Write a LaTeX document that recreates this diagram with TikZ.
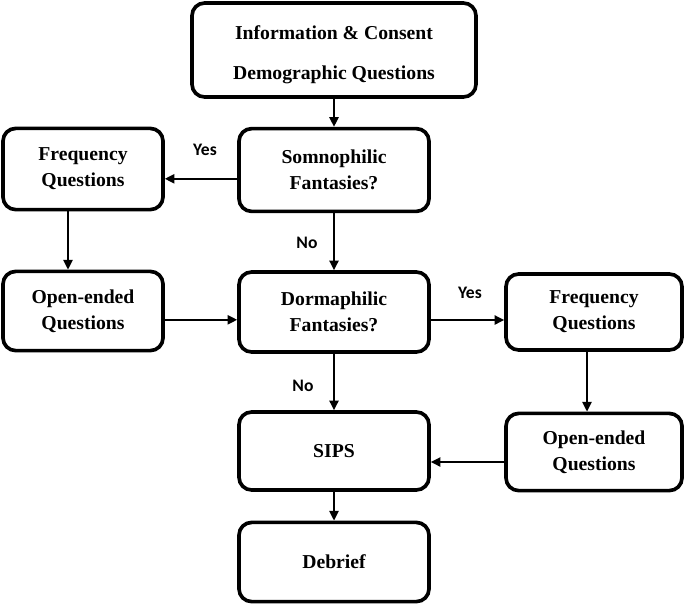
\documentclass[tikz,border=0pt]{standalone}
\usepackage{fontspec}
\setmainfont{Liberation Serif}
\newfontfamily\labelfont{Carlito}
\usepackage{tikz}
\usetikzlibrary{arrows.meta, positioning}

\begin{document}
\begin{tikzpicture}[
  font=\fontsize{14}{18.5}\selectfont\bfseries,
  stage/.style={draw, line width=2.6pt, rounded corners=9pt, align=center,
                minimum width=4.75cm, minimum height=2cm, inner sep=3pt},
  side/.style={stage, minimum width=4cm},
  choice/.style={font=\labelfont\fontsize{12.5}{14}\selectfont\bfseries},
  a/.style={-{Triangle[length=2.4mm,width=2.3mm]}, line width=1.3pt}
]
\useasboundingbox (0,0) rectangle (17.15,-15.175);

\node[stage, minimum width=7.1cm, minimum height=2.35cm,
      font=\fontsize{14}{28.5}\selectfont\bfseries] (info) at (8.35,-1.25)
  {\rule{0pt}{17pt}Information \& Consent\\Demographic Questions};
\node[stage, minimum height=2.07cm] (somno) at (8.35,-4.25) {Somnophilic\\Fantasies?};
\node[side, minimum height=2.03cm] (freqL) at (2.075,-4.225) {Frequency\\Questions};
\node[side, minimum height=1.98cm] (openL) at (2.075,-7.775) {Open-ended\\Questions};
\node[stage] (dorm) at (8.35,-7.8) {Dormaphilic\\Fantasies?};
\node[side, minimum width=4.4cm, minimum height=1.9cm] (freqR) at (14.85,-7.8) {Frequency\\Questions};
\node[side, minimum width=4.4cm, minimum height=1.93cm] (openR) at (14.85,-11.3) {Open-ended\\Questions};
\node[stage, minimum height=1.95cm] (sips) at (8.35,-11.275) {SIPS};
\node[stage, minimum height=1.98cm] (debrief) at (8.35,-14.05) {Debrief};

% connectors
\draw[a] (info.south) -- (somno.north);
\draw[a] ([yshift=-2.2mm]somno.west) -- ([yshift=-2.2mm]somno.west -| freqL.east);
\draw[a] ([xshift=-3.75mm]freqL.south) -- ([xshift=-3.75mm]freqL.south |- openL.north);
\draw[a] (somno.south) -- (dorm.north);
\draw[a] ([yshift=-2.2mm]openL.east) -- ([yshift=-2.2mm]openL.east -| dorm.west);
\draw[a] ([yshift=-2mm]dorm.east) -- ([yshift=-2mm]dorm.east -| freqR.west);
\draw[a] ([xshift=-1.75mm]freqR.south) -- ([xshift=-1.75mm]freqR.south |- openR.north);
\draw[a] (dorm.south) -- (sips.north);
\draw[a] ([yshift=-2.5mm]openR.west) -- ([yshift=-2.5mm]openR.west -| sips.east);
\draw[a] (sips.south) -- (debrief.north);

\node[choice] (yesL) at (5.125,-3.75) {Yes};
\node[choice] (noT) at (7.675,-6.075) {No};
\node[choice] (yesR) at (11.75,-7.325) {Yes};
\node[choice] (noB) at (7.575,-9.65) {No};
\end{tikzpicture}
\end{document}
